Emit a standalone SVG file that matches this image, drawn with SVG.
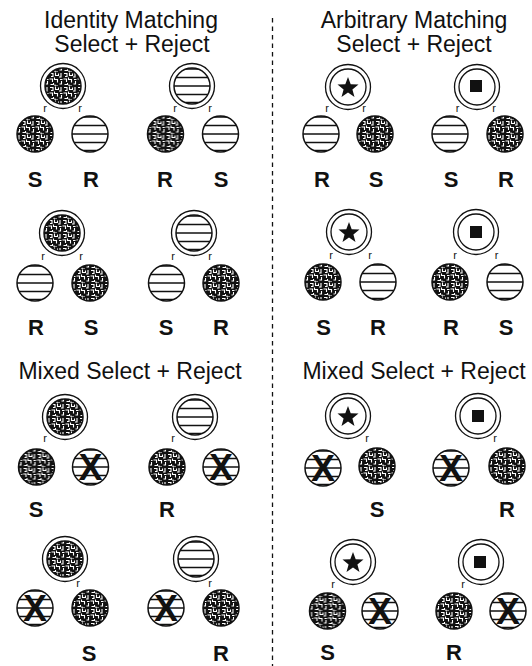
<svg xmlns="http://www.w3.org/2000/svg" xmlns:xlink="http://www.w3.org/1999/xlink" width="532" height="666" viewBox="0 0 532 666">
<style>
.title{font-family:"Liberation Sans",Arial,sans-serif;font-size:23px;fill:#111;text-anchor:middle}
.lab{font-family:"Liberation Sans",Arial,sans-serif;font-size:22px;font-weight:bold;fill:#111;text-anchor:middle}
.r{font-family:"Liberation Sans",Arial,sans-serif;font-size:11px;fill:#111;text-anchor:middle}
.x{font-family:"Liberation Sans",Arial,sans-serif;font-size:36px;font-weight:bold;fill:#111;text-anchor:middle}
.ring{fill:#fff;stroke:#111;stroke-width:1.3}
.edge{fill:none;stroke:#111;stroke-width:1.5}
.stripe{stroke:#111;stroke-width:1.3}
.divider{stroke:#111;stroke-width:1.3;stroke-dasharray:4.5 4;fill:none}
</style>
<defs>
<pattern id="maze" width="14" height="14" patternUnits="userSpaceOnUse">
<rect width="14" height="14" fill="#111"/>
<path d="M1 1.5h3v3h-2 M6.5 0.5v3h3v-2 M12 1v4h-2 M0.5 7h3v3 M5.5 5.5v2h3v3 M11 7.5h2.5 M12.5 9v3h-2 M1.5 12.5h3v-1.5 M6 12.5v1.5h3" stroke="#fff" stroke-width="1.1" fill="none"/>
</pattern>
<clipPath id="cc"><circle r="18"/></clipPath>
<g id="tex"><circle r="18" fill="url(#maze)"/><circle r="18" class="edge"/></g>
<g id="str"><circle r="18" fill="#fff"/><g clip-path="url(#cc)" class="stripe"><line x1="-19" y1="-17" x2="19" y2="-17"/><line x1="-19" y1="-8.5" x2="19" y2="-8.5"/><line x1="-19" y1="0" x2="19" y2="0"/><line x1="-19" y1="8.5" x2="19" y2="8.5"/><line x1="-19" y1="16.5" x2="19" y2="16.5"/></g><circle r="18" class="edge"/></g>
<g id="ring"><circle r="22.5" class="ring"/></g>
<g id="pin"><circle r="18" class="ring"/></g>
<polygon id="star" points="0,-11 2.7,-3.7 10.5,-3.4 4.4,1.4 6.5,8.9 0,4.6 -6.5,8.9 -4.4,1.4 -10.5,-3.4 -2.7,-3.7" fill="#111"/>
<rect id="sq" x="-6" y="-6" width="12" height="12" fill="#111"/>
</defs>

<g id="connectors">
<line class="divider" x1="272.5" y1="18" x2="272.5" y2="666"/>
</g>

<g id="titles">
<text class="title" x="131" y="28">Identity Matching</text>
<text class="title" x="132" y="52">Select + Reject</text>
<text class="title" x="414" y="28">Arbitrary Matching</text>
<text class="title" x="414" y="52">Select + Reject</text>
<text class="title" x="130" y="379">Mixed Select + Reject</text>
<text class="title" x="414" y="379">Mixed Select + Reject</text>
</g>

<!-- Identity row 1 -->
<g id="A1">
<g id="A1p"><use href="#ring" x="63" y="86"/><use href="#tex" x="63" y="86"/></g>
<g id="A1l"><use href="#tex" x="35" y="134"/></g>
<g id="A1r"><use href="#str" x="90" y="134"/></g>
<text class="r" x="45" y="111.5">r</text><text class="r" x="80" y="111.5">r</text>
<text class="lab" x="35" y="187">S</text><text class="lab" x="91" y="187">R</text>
</g>
<g id="A2">
<g id="A2p"><use href="#ring" x="192" y="86"/><use href="#str" x="192" y="86"/></g>
<g id="A2l"><use href="#tex" x="165.5" y="134"/></g>
<g id="A2r"><use href="#str" x="220.5" y="134"/></g>
<text class="r" x="175" y="111.5">r</text><text class="r" x="210" y="111.5">r</text>
<text class="lab" x="165" y="187">R</text><text class="lab" x="221" y="187">S</text>
</g>
<!-- Identity row 2 -->
<g id="A3">
<g id="A3p"><use href="#ring" x="62" y="233"/><use href="#tex" x="62" y="233"/></g>
<g id="A3l"><use href="#str" x="35" y="283"/></g>
<g id="A3r"><use href="#tex" x="90" y="283"/></g>
<text class="r" x="43" y="260">r</text><text class="r" x="81" y="260">r</text>
<text class="lab" x="36" y="335">R</text><text class="lab" x="91" y="335">S</text>
</g>
<g id="A4">
<g id="A4p"><use href="#ring" x="194" y="233"/><use href="#str" x="194" y="233"/></g>
<g id="A4l"><use href="#str" x="166.5" y="283"/></g>
<g id="A4r"><use href="#tex" x="221" y="283"/></g>
<text class="r" x="173" y="260">r</text><text class="r" x="210" y="260">r</text>
<text class="lab" x="166" y="335">S</text><text class="lab" x="221" y="335">R</text>
</g>

<!-- Arbitrary row 1 -->
<g id="B1">
<g id="B1p"><use href="#ring" x="348" y="87"/><use href="#pin" x="348" y="87"/><use href="#star" x="348" y="88"/></g>
<g id="B1l"><use href="#str" x="321" y="134"/></g>
<g id="B1r"><use href="#tex" x="375" y="134"/></g>
<text class="r" x="327" y="111.5">r</text><text class="r" x="364" y="111.5">r</text>
<text class="lab" x="322" y="187">R</text><text class="lab" x="376" y="187">S</text>
</g>
<g id="B2">
<g id="B2p"><use href="#ring" x="477" y="87"/><use href="#pin" x="477" y="87"/><use href="#sq" x="476" y="86"/></g>
<g id="B2l"><use href="#str" x="450" y="134"/></g>
<g id="B2r"><use href="#tex" x="505" y="134"/></g>
<text class="r" x="457.5" y="111.5">r</text><text class="r" x="494" y="111.5">r</text>
<text class="lab" x="451" y="187">S</text><text class="lab" x="506" y="187">R</text>
</g>
<!-- Arbitrary row 2 -->
<g id="B3">
<g id="B3p"><use href="#ring" x="349" y="232"/><use href="#pin" x="349" y="232"/><use href="#star" x="349" y="233"/></g>
<g id="B3l"><use href="#tex" x="323" y="282"/></g>
<g id="B3r"><use href="#str" x="378" y="282"/></g>
<text class="r" x="331" y="259">r</text><text class="r" x="370" y="259">r</text>
<text class="lab" x="323.5" y="335">S</text><text class="lab" x="378" y="335">R</text>
</g>
<g id="B4">
<g id="B4p"><use href="#ring" x="476" y="232"/><use href="#pin" x="476" y="232"/><use href="#sq" x="476" y="232"/></g>
<g id="B4l"><use href="#tex" x="450" y="282"/></g>
<g id="B4r"><use href="#str" x="505" y="282"/></g>
<text class="r" x="455" y="259">r</text><text class="r" x="496.5" y="259">r</text>
<text class="lab" x="451" y="335">R</text><text class="lab" x="506" y="335">S</text>
</g>

<!-- Mixed left -->
<g id="C1">
<g id="C1p"><use href="#ring" x="65" y="417"/><use href="#tex" x="65" y="417"/></g>
<g id="C1l"><use href="#tex" x="36.5" y="467"/></g>
<g id="C1r"><use href="#str" x="90.5" y="467"/><text class="x" x="90.5" y="480">X</text></g>
<text class="r" x="45" y="442">r</text>
<text class="lab" x="36" y="517">S</text>
</g>
<g id="C2">
<g id="C2p"><use href="#ring" x="195" y="417"/><use href="#str" x="195" y="417"/></g>
<g id="C2l"><use href="#tex" x="167" y="467"/></g>
<g id="C2r"><use href="#str" x="221" y="467"/><text class="x" x="221" y="480">X</text></g>
<text class="r" x="173" y="442">r</text>
<text class="lab" x="167" y="517">R</text>
</g>
<g id="C3">
<g id="C3p"><use href="#ring" x="65" y="559"/><use href="#tex" x="65" y="559"/></g>
<g id="C3l"><use href="#str" x="35" y="608"/><text class="x" x="35" y="621">X</text></g>
<g id="C3r"><use href="#tex" x="90" y="608"/></g>
<text class="r" x="78" y="587">r</text>
<text class="lab" x="89" y="661">S</text>
</g>
<g id="C4">
<g id="C4p"><use href="#ring" x="196" y="559"/><use href="#str" x="196" y="559"/></g>
<g id="C4l"><use href="#str" x="166" y="608"/><text class="x" x="166" y="621">X</text></g>
<g id="C4r"><use href="#tex" x="221" y="608"/></g>
<text class="r" x="210" y="587">r</text>
<text class="lab" x="221" y="661">R</text>
</g>

<!-- Mixed right -->
<g id="D1">
<g id="D1p"><use href="#ring" x="348" y="416"/><use href="#pin" x="348" y="416"/><use href="#star" x="348" y="417"/></g>
<g id="D1l"><use href="#str" x="323" y="468"/><text class="x" x="323" y="481">X</text></g>
<g id="D1r"><use href="#tex" x="377" y="466"/></g>
<text class="r" x="367" y="442">r</text>
<text class="lab" x="377" y="517">S</text>
</g>
<g id="D2">
<g id="D2p"><use href="#ring" x="478" y="416"/><use href="#pin" x="478" y="416"/><use href="#sq" x="478" y="416"/></g>
<g id="D2l"><use href="#str" x="451" y="468"/><text class="x" x="451" y="481">X</text></g>
<g id="D2r"><use href="#tex" x="507" y="466"/></g>
<text class="r" x="495" y="442">r</text>
<text class="lab" x="507" y="517">R</text>
</g>
<g id="D3">
<g id="D3p"><use href="#ring" x="353" y="562"/><use href="#pin" x="353" y="562"/><use href="#star" x="353" y="563"/></g>
<g id="D3l"><use href="#tex" x="327.5" y="611"/></g>
<g id="D3r"><use href="#str" x="380" y="611"/><text class="x" x="380" y="624">X</text></g>
<text class="r" x="333" y="588">r</text>
<text class="lab" x="327.5" y="660">S</text>
</g>
<g id="D4">
<g id="D4p"><use href="#ring" x="481" y="562"/><use href="#pin" x="481" y="562"/><use href="#sq" x="480" y="562"/></g>
<g id="D4l"><use href="#tex" x="454" y="611"/></g>
<g id="D4r"><use href="#str" x="508" y="611"/><text class="x" x="508" y="624">X</text></g>
<text class="r" x="463" y="588">r</text>
<text class="lab" x="454" y="660">R</text>
</g>
</svg>
